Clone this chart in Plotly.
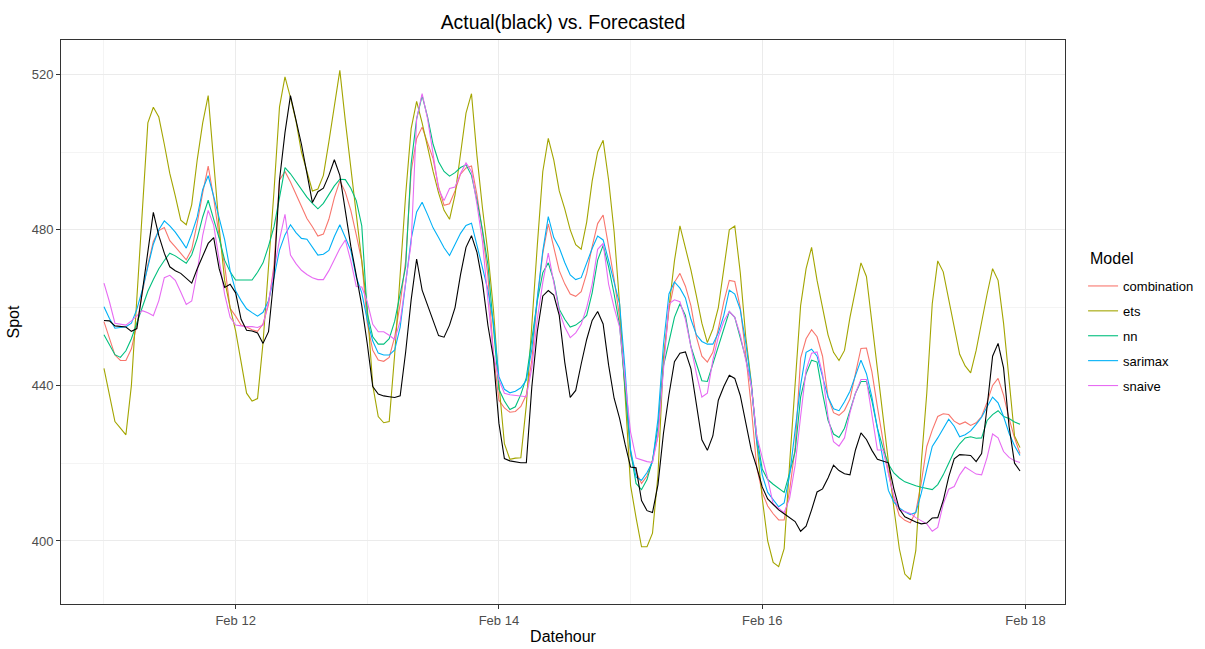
import pandas as pd
import plotly.graph_objects as go

times = pd.date_range("2021-02-11 00:00", periods=168, freq="h")

actual = [
    456.7, 456.6, 455.3, 455.1, 455.0, 453.9, 454.6, 464.2, 474.6, 484.5, 478.5, 474.0, 470.5, 469.5, 468.8, 467.5, 466.3, 470.0, 473.5, 476.5, 478.0, 470.0, 465.2, 466.0,
    463.8, 457.0, 454.2, 454.0, 453.5, 450.8, 453.8, 468.0, 492.8, 505.0, 514.5, 508.6, 502.0, 494.5, 487.0, 489.8, 490.7, 494.0, 498.0, 494.0, 485.0, 475.8, 468.3, 460.5,
    450.7, 439.7, 437.8, 437.3, 437.1, 436.9, 437.3, 448.6, 462.0, 472.5, 464.5, 460.5, 457.0, 452.8, 452.4, 455.5, 460.0, 468.5, 475.5, 478.5, 474.2, 466.5, 455.4, 447.0,
    430.3, 421.2, 420.6, 420.3, 420.1, 420.1, 439.6, 453.8, 463.0, 464.4, 463.2, 458.0, 446.0, 436.9, 438.7, 445.5, 451.8, 456.7, 459.0, 455.8, 445.2, 436.7, 431.5, 424.9,
    419.0, 418.8, 410.4, 407.8, 407.3, 414.5, 427.7, 437.6, 446.1, 448.3, 448.6, 444.3, 435.5, 426.0, 423.3, 427.0, 436.2, 439.7, 442.6, 441.8, 437.4, 430.6, 423.4, 419.0,
    413.9, 410.8, 409.3, 408.0, 407.0, 406.0, 405.0, 402.5, 403.8, 408.0, 412.6, 413.4, 416.2, 419.5, 418.1, 417.3, 417.0, 423.4, 427.8, 426.1, 423.3, 421.0, 420.5, 420.1,
    413.4, 408.2, 406.2, 405.5, 404.9, 404.4, 404.6, 405.9, 406.0, 410.4, 416.5, 421.1, 422.2, 422.1, 422.0, 420.4, 422.5, 434.5, 447.5, 450.8, 444.5, 429.5, 420.0, 418.0,
]

combination = [
    456.4, 452.0, 447.8, 446.4, 446.4, 449.4, 455.6, 463.9, 471.0, 477.0, 479.8, 480.6, 477.2, 475.6, 473.9, 472.3, 475.0, 481.7, 489.5, 496.4, 488.2, 478.3, 470.9, 459.8,
    457.8, 455.5, 455.0, 454.3, 453.9, 455.8, 460.8, 471.0, 492.8, 495.0, 492.3, 489.3, 486.0, 482.9, 480.8, 478.4, 478.9, 482.7, 488.3, 492.6, 489.7, 485.0, 478.7, 472.0,
    456.0, 449.0, 446.5, 446.2, 447.2, 452.5, 461.0, 472.0, 495.0, 503.5, 506.4, 502.5, 498.3, 491.0, 486.3, 486.7, 490.0, 494.3, 495.9, 496.4, 489.0, 479.5, 468.0, 448.0,
    436.2, 434.2, 433.1, 433.3, 434.6, 437.6, 446.5, 462.0, 474.0, 481.5, 475.5, 469.5, 466.1, 463.5, 462.9, 464.1, 468.8, 475.7, 481.6, 483.8, 475.7, 467.3, 457.5, 439.0,
    422.0, 417.8, 414.8, 416.7, 420.8, 427.0, 446.0, 459.5, 466.5, 468.8, 465.5, 460.5, 452.5, 447.5, 446.0, 448.5, 454.5, 461.5, 467.0, 466.7, 460.0, 448.0, 434.5, 419.0,
    412.5, 409.0, 407.0, 405.4, 405.4, 413.0, 424.0, 447.0, 452.0, 454.3, 452.5, 447.5, 437.0, 433.0, 432.3, 433.6, 436.5, 443.0, 449.5, 449.6, 443.5, 434.5, 426.5, 417.5,
    411.0, 406.5, 405.3, 404.7, 407.5, 415.0, 424.3, 428.5, 432.0, 432.7, 432.5, 430.8, 430.0, 430.6, 429.7, 430.4, 432.0, 435.7, 440.0, 441.8, 437.5, 431.5, 426.5, 422.5,
]

ets = [
    444.4, 437.5, 430.7, 429.0, 427.3, 440.0, 462.6, 484.0, 507.5, 511.5, 509.0, 502.0, 494.5, 488.7, 482.5, 481.3, 486.5, 498.0, 507.5, 514.5, 497.5, 480.6, 467.0, 460.0,
    454.0, 446.0, 438.0, 436.0, 436.6, 451.0, 470.0, 490.0, 511.6, 519.3, 514.0, 508.0, 500.0, 495.0, 490.0, 490.5, 494.0, 502.6, 511.5, 521.0, 508.0, 496.0, 484.0, 473.0,
    460.0, 440.0, 432.0, 430.4, 430.7, 448.0, 469.0, 489.0, 506.0, 513.0, 507.5, 501.0, 495.0, 489.5, 485.0, 482.7, 489.0, 499.5, 510.0, 515.0, 499.0, 485.6, 474.0, 459.5,
    440.5, 425.0, 421.0, 421.3, 421.4, 435.0, 456.0, 476.0, 495.0, 503.5, 498.0, 490.0, 485.4, 480.0, 476.2, 475.0, 482.0, 492.5, 500.0, 503.0, 492.8, 479.5, 461.0, 436.5,
    414.3, 406.0, 398.5, 398.5, 402.0, 417.0, 447.0, 460.0, 472.0, 481.0, 475.7, 469.7, 463.0, 456.0, 451.0, 454.5, 460.0, 470.0, 480.0, 481.0, 469.0, 452.5, 441.0, 425.5,
    411.0, 400.0, 394.5, 393.4, 398.0, 420.0, 440.0, 460.5, 470.0, 475.5, 467.0, 460.0, 453.0, 448.5, 446.4, 449.0, 457.5, 464.5, 471.5, 468.0, 456.0, 443.0, 432.0, 420.0,
    408.5, 398.0, 391.5, 390.1, 397.5, 420.0, 438.0, 461.0, 472.0, 469.2, 462.3, 455.0, 448.0, 445.0, 443.2, 449.0, 456.5, 463.5, 470.0, 467.0, 456.0, 442.0, 427.0, 424.0,
]

nn = [
    453.0, 450.4, 447.9, 447.2, 448.9, 452.0, 456.2, 460.5, 464.2, 467.2, 470.0, 472.1, 474.0, 473.3, 472.4, 471.4, 473.6, 477.8, 483.3, 487.6, 482.7, 477.9, 472.2, 469.2,
    467.1, 467.1, 467.1, 467.1, 469.1, 471.5, 475.8, 480.8, 488.3, 496.0, 494.4, 492.4, 490.4, 488.4, 486.8, 485.4, 486.8, 489.2, 491.3, 493.0, 492.9, 490.7, 487.5, 481.0,
    458.5, 452.5, 450.6, 450.6, 452.0, 456.5, 463.3, 470.5, 497.0, 508.5, 514.5, 509.0, 502.0, 497.5, 495.0, 493.8, 494.7, 496.0, 496.7, 494.0, 487.5, 480.0, 471.0, 455.0,
    439.0, 436.0, 433.8, 434.5, 437.7, 442.0, 452.5, 461.7, 469.0, 471.5, 467.0, 459.6, 457.0, 455.0, 455.5, 456.6, 458.0, 463.8, 472.2, 476.0, 470.5, 463.5, 455.5, 439.0,
    423.0, 414.8, 413.2, 415.8, 420.7, 429.4, 445.0, 451.2, 457.5, 461.0, 458.0, 450.0, 445.5, 441.2, 441.0, 445.5, 450.0, 454.5, 459.0, 457.5, 452.5, 447.0, 440.0, 427.0,
    418.5, 415.8, 414.6, 413.5, 412.5, 417.5, 423.0, 437.0, 443.0, 446.5, 446.0, 438.0, 431.0, 427.5, 426.6, 429.0, 433.8, 438.0, 441.0, 441.0, 436.0, 429.0, 424.0, 419.8,
    417.5, 416.2, 415.2, 414.6, 414.2, 413.8, 413.5, 413.2, 414.5, 417.0, 420.0, 423.0, 425.0, 426.5, 426.8, 426.4, 426.5, 431.0, 432.5, 433.5, 432.0, 431.5, 430.6, 430.0,
]

sarimax = [
    460.2, 457.2, 454.7, 454.9, 455.1, 456.0, 459.6, 464.6, 470.7, 476.3, 480.0, 482.3, 481.0, 479.4, 477.4, 475.3, 479.0, 483.3, 490.4, 493.9, 488.6, 483.0, 477.5, 469.5,
    464.3, 461.8, 459.7, 458.7, 457.8, 458.8, 461.8, 467.8, 474.8, 478.7, 481.3, 479.3, 477.8, 477.6, 475.6, 473.5, 473.7, 474.7, 478.3, 481.3, 478.0, 474.7, 467.8, 463.8,
    456.8, 451.4, 448.3, 447.8, 447.8, 449.1, 455.0, 467.0, 477.6, 484.6, 487.1, 483.9, 480.5, 478.0, 475.4, 473.4, 476.2, 479.1, 481.1, 481.7, 476.0, 470.4, 464.5, 456.0,
    442.2, 439.0, 438.1, 438.5, 439.4, 441.3, 449.3, 462.5, 474.6, 483.4, 478.0, 475.4, 471.6, 468.4, 467.2, 467.7, 471.6, 475.2, 478.4, 477.4, 472.1, 466.6, 461.0, 444.0,
    423.5, 416.4, 415.6, 417.6, 420.3, 431.4, 450.5, 463.5, 466.6, 465.0, 462.5, 457.0, 453.0, 451.3, 450.6, 450.6, 453.5, 458.0, 464.5, 463.5, 459.5, 451.0, 440.5, 425.5,
    417.0, 412.5, 410.5, 408.8, 409.8, 417.0, 428.5, 440.0, 448.5, 449.3, 447.5, 442.0, 437.0, 434.0, 433.5, 435.8, 438.5, 442.5, 446.5, 443.0, 437.0, 429.0, 421.0, 413.0,
    410.0, 408.5, 407.5, 406.8, 407.3, 412.3, 418.5, 424.3, 426.5, 428.8, 431.3, 429.5, 426.8, 427.3, 428.3, 430.0, 431.8, 434.5, 437.0, 435.5, 432.0, 427.7, 424.5, 422.0,
]

snaive = [
    466.3, 461.5, 456.0, 455.8, 455.5, 456.6, 457.9, 459.2, 458.7, 457.9, 461.8, 467.7, 468.3, 467.0, 464.0, 460.8, 461.7, 469.2, 478.6, 485.0, 481.2, 472.0, 463.4, 457.5,
    455.5, 455.3, 455.1, 455.1, 454.9, 455.5, 461.5, 469.7, 477.4, 484.0, 473.5, 471.3, 469.6, 468.5, 467.7, 467.2, 467.2, 469.5, 472.4, 475.2, 477.4, 472.0, 465.4, 465.3,
    461.5, 455.7, 453.8, 453.8, 452.9, 451.8, 456.5, 466.0, 476.5, 508.5, 515.0, 508.5, 499.3, 490.5, 487.5, 490.6, 491.0, 494.5, 497.2, 495.0, 486.5, 477.0, 462.0, 448.0,
    441.4, 438.0, 437.6, 437.4, 437.2, 437.1, 444.5, 457.0, 466.5, 474.0, 466.5, 459.0, 455.0, 452.3, 453.5, 455.7, 460.0, 466.0, 475.0, 476.5, 466.0, 460.0, 455.0, 441.0,
    428.0, 421.3, 420.8, 420.4, 420.2, 427.0, 444.0, 461.0, 462.0, 461.5, 457.0, 450.0, 443.0, 437.0, 438.0, 446.5, 452.5, 456.5, 459.0, 457.5, 453.0, 446.5, 440.0, 427.0,
    421.5, 416.0, 409.5, 408.3, 407.3, 411.0, 419.5, 432.0, 444.0, 448.3, 448.6, 443.0, 432.0, 425.5, 424.4, 426.5, 433.0, 438.0, 441.5, 441.5, 433.0, 423.4, 423.4, 417.5,
    411.5, 408.0, 407.5, 407.1, 406.0, 405.2, 404.4, 402.5, 403.5, 409.5, 413.3, 414.0, 417.0, 419.0, 418.0, 417.2, 417.0, 421.5, 427.5, 426.5, 423.0, 421.5, 420.6, 420.2,
]

models = ["combination", "ets", "nn", "sarimax", "snaive"]
model_values = [combination, ets, nn, sarimax, snaive]
model_colors = ["#F8766D", "#A3A500", "#00BF7D", "#00B0F6", "#E76BF3"]

FONT = "Liberation Sans, Arial, Helvetica, sans-serif"
W, H = 1205, 649
ML, MR, MT, MB = 61, 140, 40, 45

fig = go.Figure()
for name, vals, col in zip(models, model_values, model_colors):
    fig.add_trace(go.Scatter(
        x=times, y=vals, mode="lines", name=name, legendgroup=name,
        line=dict(color=col, width=1.1),
    ))
fig.add_trace(go.Scatter(
    x=times, y=actual, mode="lines", name="actual", showlegend=False,
    line=dict(color="black", width=1.1),
))

grid_major = "#EBEBEB"
grid_minor = "#F4F4F4"
plot_h = H - MT - MB

fig.update_layout(
    width=W, height=H,
    margin=dict(l=ML, r=MR, t=MT, b=MB, autoexpand=False),
    paper_bgcolor="white", plot_bgcolor="white",
    font=dict(family=FONT, size=13, color="#4D4D4D"),
    title=dict(text="Actual(black) vs. Forecasted", x=0.5, xref="paper", xanchor="center",
               y=1 - 22.5 / H, yref="container", yanchor="middle",
               font=dict(family=FONT, size=19.4, color="black")),
    legend=dict(
        font=dict(family=FONT, size=13, color="black"),
        x=1.018, xanchor="left", y=(H - MB - 336) / plot_h, yanchor="middle",
        tracegroupgap=5, traceorder="grouped",
        bgcolor="rgba(0,0,0,0)",
    ),
    showlegend=True,
    annotations=[dict(
        text="Model", xref="paper", yref="paper",
        x=1 + (1088 - (W - MR)) / (W - ML - MR), y=(H - MB - 258) / plot_h,
        xanchor="left", yanchor="middle", showarrow=False,
        font=dict(family=FONT, size=16, color="black"),
    )],
)

fig.update_xaxes(
    range=["2021-02-10 16:10", "2021-02-18 07:12"],
    tick0="2021-02-12", dtick=2 * 86400000, tickformat="%b %d",
    showgrid=True, gridcolor=grid_major, gridwidth=1,
    minor=dict(tick0="2021-02-11", dtick=86400000, showgrid=True, gridcolor=grid_minor, gridwidth=1),
    showline=True, linecolor="#333333", linewidth=1, mirror=True,
    ticks="outside", ticklen=4, tickcolor="#333333",
    tickfont=dict(family=FONT, size=13, color="#4D4D4D"),
    title=dict(text="Datehour", font=dict(family=FONT, size=16, color="black"), standoff=4),
    zeroline=False, automargin=False,
)
fig.update_yaxes(
    range=[383.8, 528.8],
    tick0=400, dtick=40,
    showgrid=True, gridcolor=grid_major, gridwidth=1,
    minor=dict(tick0=400, dtick=20, showgrid=True, gridcolor=grid_minor, gridwidth=1),
    showline=True, linecolor="#333333", linewidth=1, mirror=True,
    ticks="outside", ticklen=4, tickcolor="#333333",
    tickfont=dict(family=FONT, size=13, color="#4D4D4D"),
    title=dict(text="Spot", font=dict(family=FONT, size=16, color="black"), standoff=8),
    zeroline=False, automargin=False,
)

fig.write_html("out.html")
